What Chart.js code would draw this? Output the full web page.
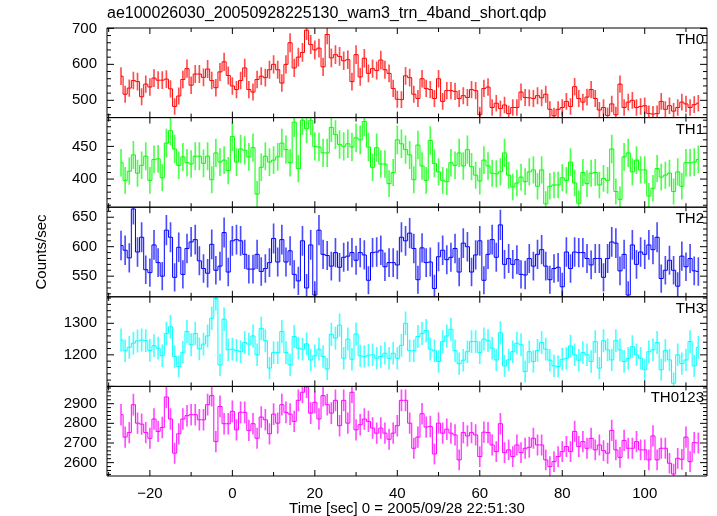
<!DOCTYPE html>
<html>
<head>
<meta charset="utf-8">
<script src="https://cdn.jsdelivr.net/npm/chart.js@4.4.0/dist/chart.umd.min.js"></script>
<style>
  html, body { margin: 0; padding: 0; background: #fff; }
  #wrap { width: 717px; height: 516px; }
</style>
</head>
<body>
<div id="wrap"><canvas id="lc" width="717" height="516"></canvas></div>
<script>
// --- light curve data: 1 s bins, first bin centred at -27 s ---
const binStart = -27;

const th0 = [567, 517, 534, 555, 552, 510, 545, 537, 562, 556,
  556, 559, 532, 483, 512, 558, 588, 542, 573, 573,
  564, 587, 555, 535, 579, 607, 569, 540, 530, 555,
  590, 530, 523, 558, 567, 563, 585, 600, 585, 548,
  600, 660, 590, 620, 633, 695, 655, 640, 645, 593,
  683, 618, 627, 622, 610, 613, 552, 627, 565, 617,
  575, 588, 583, 612, 585, 575, 533, 503, 502,
  568, 563, 517, 505, 560, 533, 530, 505, 560, 497,
  527, 527, 525, 505, 513, 508, 530, 527, 460, 533,
  537, 480, 492, 477, 487, 463, 480, 480, 523, 508,
  507, 505, 513, 507, 517, 475, 457, 475, 480, 497,
  483, 538, 505, 495, 509, 530, 505, 473, 480, 458,
  490, 460, 545, 480, 495, 500, 480, 483, 485, 463,
  462, 463, 497, 475, 485, 470, 480, 495, 490, 480,
  488, 492];

const th1 = [425, 398, 412, 437, 409, 421, 435, 398, 430, 431,
  402, 455, 474, 446, 421, 434, 425, 423, 435, 435,
  424, 435, 399, 440, 426, 429, 413, 465, 426, 446,
  444, 434, 448, 377, 418, 435, 426, 429, 434, 455,
  445, 425, 487, 416, 490, 477, 490, 450, 449, 440,
  440, 479, 468, 453, 450, 454, 449, 463, 460, 488,
  449, 418, 448, 423, 423, 393, 410, 460, 454,
  445, 437, 399, 452, 420, 398, 459, 424, 411, 398,
  396, 425, 421, 440, 420, 445, 419, 406, 397, 429,
  420, 409, 408, 411, 440, 406, 388, 394, 403, 396,
  411, 414, 389, 414, 362, 389, 391, 391, 402, 398,
  426, 394, 363, 410, 393, 409, 410, 391, 401, 398,
  446, 381, 369, 434, 440, 411, 429, 414, 414, 374,
  386, 416, 403, 406, 409, 381, 411, 389, 425, 425,
  426, 430];

const th2 = [602, 594, 581, 664, 591, 616, 561, 556, 603, 573,
  550, 628, 616, 548, 599, 553, 597, 608, 612, 576,
  563, 555, 604, 560, 567, 624, 557, 610, 612, 610,
  587, 562, 562, 587, 558, 563, 573, 614, 574, 612,
  574, 593, 553, 542, 610, 530, 603, 518, 628, 587,
  585, 567, 590, 565, 582, 584, 590, 577, 590, 586,
  543, 590, 591, 594, 566, 573, 573, 569, 616,
  610, 623, 597, 544, 598, 573, 574, 529, 583, 594,
  578, 582, 597, 557, 606, 600, 557, 586, 610, 543,
  587, 612, 582, 637, 570, 580, 570, 578, 553, 552,
  580, 567, 587, 595, 567, 544, 563, 565, 532, 591,
  563, 591, 590, 590, 580, 569, 580, 580, 548, 580,
  608, 606, 559, 587, 518, 603, 570, 591, 587, 603,
  595, 616, 546, 560, 577, 560, 533, 584, 566, 580,
  559, 558];

const th3 = [1247, 1213, 1224, 1237, 1244, 1247, 1245, 1214, 1229, 1221,
  1197, 1268, 1289, 1195, 1163, 1208, 1274, 1232, 1268, 1219,
  1234, 1260, 1316, 1379, 1168, 1313, 1216, 1218, 1214, 1210,
  1239, 1234, 1260, 1200, 1284, 1245, 1158, 1207, 1207, 1274,
  1207, 1168, 1258, 1221, 1218, 1235, 1184, 1197, 1218, 1195,
  1155, 1265, 1253, 1294, 1189, 1250, 1186, 1266, 1197, 1195,
  1199, 1200, 1189, 1195, 1205, 1189, 1205, 1189, 1230,
  1300, 1213, 1213, 1258, 1268, 1277, 1218, 1213, 1179, 1242,
  1260, 1281, 1213, 1172, 1183, 1210, 1242, 1242, 1207, 1250,
  1245, 1221, 1184, 1270, 1165, 1184, 1210, 1237, 1232, 1147,
  1210, 1179, 1214, 1239, 1218, 1183, 1165, 1163, 1186, 1189,
  1228, 1200, 1183, 1207, 1200, 1179, 1242, 1158, 1245, 1216,
  1184, 1245, 1216, 1179, 1189, 1226, 1200, 1189, 1153, 1210,
  1216, 1239, 1153, 1214, 1184, 1110, 1200, 1172, 1184, 1242,
  1165, 1224];

const th0123 = [2844, 2730, 2753, 2895, 2801, 2796, 2753, 2724, 2822, 2759,
  2779, 2934, 2822, 2648, 2747, 2822, 2839, 2844, 2844, 2818,
  2818, 2895, 2941, 2707, 2886, 2798, 2798, 2861, 2767, 2856,
  2856, 2764, 2798, 2724, 2832, 2818, 2747, 2847, 2801, 2895,
  2856, 2847, 2810, 2917, 2958, 2985, 2852, 2907, 2822, 2941,
  2895, 2852, 2917, 2788, 2917, 2801, 2958, 2767, 2793, 2822,
  2810, 2776, 2750, 2776, 2750, 2719, 2750, 2788, 2917,
  2917, 2801, 2673, 2730, 2849, 2781, 2784, 2644, 2801, 2750,
  2770, 2750, 2741, 2614, 2753, 2736, 2753, 2741, 2631, 2755,
  2753, 2690, 2656, 2798, 2651, 2665, 2631, 2690, 2651, 2673,
  2678, 2724, 2690, 2690, 2614, 2580, 2605, 2631, 2656, 2682,
  2656, 2759, 2682, 2707, 2673, 2724, 2665, 2690, 2661, 2648,
  2764, 2665, 2627, 2713, 2673, 2673, 2707, 2665, 2665, 2614,
  2736, 2614, 2673, 2673, 2597, 2542, 2622, 2617, 2730, 2605,
  2702, 2700];

// tick labels
const xTickValues = [-20, 0, 20, 40, 60, 80, 100];
const th0Ticks = [500, 600, 700];
const th1Ticks = [400, 450];
const th2Ticks = [550, 600, 650];
const th3Ticks = [1200, 1300];
const th0123Ticks = [2600, 2700, 2800, 2900];

const FONT = '"Liberation Sans", Arial, Helvetica, sans-serif';
Chart.defaults.font.family = FONT;
Chart.defaults.color = '#000';

// panels from top to bottom
const panels = [
  { id: 'yTH0',    label: 'TH0',    values: th0,    ticks: th0Ticks,    color: '#ff0000', bar: 'rgba(255,0,0,0.7)',   min: 452,  max: 701,  major: 100, minor: 20 },
  { id: 'yTH1',    label: 'TH1',    values: th1,    ticks: th1Ticks,    color: '#00ff00', bar: 'rgba(0,255,0,0.7)',   min: 357,  max: 494,  major: 50,  minor: 10 },
  { id: 'yTH2',    label: 'TH2',    values: th2,    ticks: th2Ticks,    color: '#0000ff', bar: 'rgba(0,0,255,0.7)',   min: 515,  max: 667,  major: 50,  minor: 10 },
  { id: 'yTH3',    label: 'TH3',    values: th3,    ticks: th3Ticks,    color: '#00ffff', bar: 'rgba(0,255,255,0.7)', min: 1100, max: 1384, major: 100, minor: 20 },
  { id: 'yTH0123', label: 'TH0123', values: th0123, ticks: th0123Ticks, color: '#ff00ff', bar: 'rgba(255,0,255,0.7)', min: 2532, max: 2988, major: 100, minor: 20 }
];

// === datasets: step line + poisson error bars (sqrt N) ===
const datasets = [];
panels.forEach(p => {
  datasets.push({
    type: 'line',
    data: p.values.map((v, i) => ({ x: binStart + i, y: v })),
    yAxisID: p.id,
    borderColor: p.color,
    borderWidth: 1,
    pointRadius: 0,
    stepped: 'middle',
    order: 1
  });
  datasets.push({
    type: 'bar',
    data: p.values.map((v, i) => ({ x: binStart + i, y: [v - Math.sqrt(v), v + Math.sqrt(v)] })),
    yAxisID: p.id,
    backgroundColor: p.bar,
    borderWidth: 0,
    barThickness: 1,
    grouped: false,
    order: 2
  });
});

// === scales: stacked y axes, last defined sits on top ===
const scales = {
  x: {
    type: 'linear',
    position: 'bottom',
    min: -30.4,
    max: 115.1,
    offset: false,
    grid: { display: false, drawTicks: false },
    border: { display: false },
    afterBuildTicks: s => { s.ticks = xTickValues.map(v => ({ value: v })); },
    afterFit: s => { s.height = 40; },
    ticks: {
      autoSkip: false,
      maxRotation: 0,
      padding: 9,
      font: { size: 15 },
      callback: v => (v < 0 ? '\u2212' + Math.abs(v) : String(v))
    },
    title: {
      display: true,
      text: 'Time [sec] 0 = 2005/09/28 22:51:30',
      font: { size: 15 },
      padding: { top: 0, bottom: -2 }
    }
  }
};

panels.slice().reverse().forEach(p => {
  scales[p.id] = {
    type: 'linear',
    position: 'left',
    stack: 'qdp',
    stackWeight: 1,
    min: p.min,
    max: p.max,
    offset: false,
    grid: { display: false, drawTicks: false },
    border: { display: false },
    afterBuildTicks: s => { s.ticks = p.ticks.map(v => ({ value: v })); },
    afterFit: s => { s.width = 107; },
    ticks: { autoSkip: false, padding: 10, font: { size: 15 }, callback: v => String(v) },
    title: {
      display: p.id === 'yTH2',
      text: 'Counts/sec',
      font: { size: 15 },
      padding: { top: 33, bottom: 0 }
    }
  };
});

// === frame, inward ticks and band labels like qdp ===
const qdpFrame = {
  id: 'qdpFrame',
  afterDatasetsDraw(chart) {
    const { ctx, chartArea: area, scales: sc } = chart;
    const xs = sc.x;
    ctx.save();
    ctx.strokeStyle = '#000';
    ctx.fillStyle = '#000';
    ctx.lineWidth = 1;
    ctx.font = '15px ' + FONT;
    ctx.textAlign = 'right';
    ctx.textBaseline = 'alphabetic';
    panels.forEach(p => {
      const ys = sc[p.id];
      ctx.beginPath();
      ctx.rect(area.left, ys.top, area.right - area.left, ys.bottom - ys.top);
      for (let v = Math.ceil(ys.min / p.minor) * p.minor; v <= ys.max; v += p.minor) {
        const py = ys.getPixelForValue(v);
        const len = v % p.major === 0 ? 7 : 4;
        ctx.moveTo(area.left, py);
        ctx.lineTo(area.left + len, py);
        ctx.moveTo(area.right, py);
        ctx.lineTo(area.right - len, py);
      }
      for (let t = Math.ceil(xs.min / 10) * 10; t <= xs.max; t += 10) {
        const px = xs.getPixelForValue(t);
        const len = t % 20 === 0 ? 6 : 4;
        ctx.moveTo(px, ys.top);
        ctx.lineTo(px, ys.top + len);
        ctx.moveTo(px, ys.bottom);
        ctx.lineTo(px, ys.bottom - len);
      }
      ctx.stroke();
      ctx.fillText(p.label, area.right - 3, ys.top + 16);
    });
    ctx.restore();
  }
};

new Chart(document.getElementById('lc'), {
  type: 'line',
  data: { datasets },
  options: {
    responsive: false,
    animation: false,
    devicePixelRatio: 1,
    layout: { padding: { left: 0, right: 10, top: 0, bottom: 0 } },
    scales,
    plugins: {
      legend: { display: false },
      tooltip: { enabled: false },
      title: {
        display: true,
        fullSize: false,
        align: 'start',
        text: 'ae100026030_20050928225130_wam3_trn_4band_short.qdp',
        color: '#000',
        font: { size: 16, weight: 'normal' },
        padding: { top: 4, bottom: 4.8 }
      }
    }
  },
  plugins: [qdpFrame]
});
</script>
</body>
</html>
